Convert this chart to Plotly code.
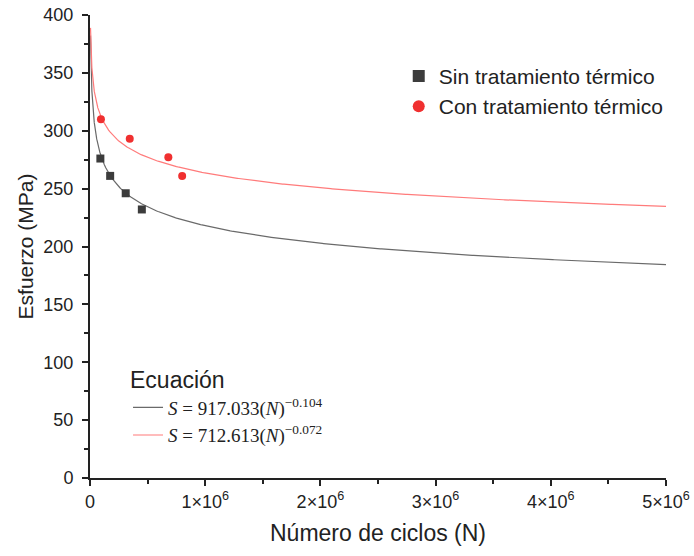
import numpy as np
import plotly.graph_objects as go

# Fatigue test data (cycles, stress in MPa)
ciclos_sin = [0.9e5, 1.75e5, 3.1e5, 4.5e5]
esfuerzo_sin = [276, 261, 246, 232]
ciclos_con = [0.95e5, 3.45e5, 6.8e5, 8.0e5]
esfuerzo_con = [310, 293, 277, 261]

# Basquin fit parameters S = A * N^b
coef_sin = [917.033, -0.104]
coef_con = [712.613, -0.072]

x_ticks = [0, 1e6, 2e6, 3e6, 4e6, 5e6]
x_ticktext = ["0", "1×10<sup>6</sup>", "2×10<sup>6</sup>", "3×10<sup>6</sup>",
              "4×10<sup>6</sup>", "5×10<sup>6</sup>"]
y_ticks = [0, 50, 100, 150, 200, 250, 300, 350, 400]

FONT = "Liberation Sans, Arial, sans-serif"
SERIF = "Liberation Serif, DejaVu Serif, serif"

n_fit = np.concatenate([np.linspace(4500, 1e5, 200), np.linspace(1e5, 5e6, 400)])

fig = go.Figure()

fig.add_trace(go.Scatter(
    x=n_fit, y=coef_sin[0] * n_fit ** coef_sin[1], mode="lines",
    line=dict(color="#6a6a6a", width=1.2),
    name="<i>S</i> = 917.033(<i>N</i>)<sup>−0.104</sup>", legend="legend2"))
fig.add_trace(go.Scatter(
    x=n_fit, y=coef_con[0] * n_fit ** coef_con[1], mode="lines",
    line=dict(color="#ff7b7b", width=1.2),
    name="<i>S</i> = 712.613(<i>N</i>)<sup>−0.072</sup>", legend="legend2"))

fig.add_trace(go.Scatter(
    x=ciclos_sin, y=esfuerzo_sin, mode="markers",
    marker=dict(symbol="square", size=8, color="#3c3c3c"),
    name="Sin tratamiento térmico", legend="legend"))
fig.add_trace(go.Scatter(
    x=ciclos_con, y=esfuerzo_con, mode="markers",
    marker=dict(symbol="circle", size=8, color="#f03030"),
    name="Con tratamiento térmico", legend="legend"))

fig.update_layout(
    width=694, height=556,
    margin=dict(l=90, r=28, t=15, b=78),
    plot_bgcolor="white", paper_bgcolor="white",
    font=dict(family=FONT, color="#222", size=18),
    showlegend=True,
    legend=dict(
        x=0.536, y=0.912, xanchor="left", yanchor="top",
        bgcolor="rgba(0,0,0,0)", font=dict(family=FONT, size=21, color="#222"),
        itemsizing="constant", tracegroupgap=0,
    ),
    legend2=dict(
        x=0.066, y=0.258, xanchor="left", yanchor="top",
        bgcolor="rgba(0,0,0,0)", font=dict(family=SERIF, size=19, color="#222"),
        title=dict(text="Ecuación", font=dict(family=FONT, size=23, color="#222")),
    ),
    xaxis=dict(
        range=[0, 5e6], tickvals=x_ticks, ticktext=x_ticktext, automargin=False,
        showgrid=False, zeroline=False, showline=True, linecolor="#222", linewidth=2,
        ticks="outside", ticklen=6, tickwidth=2, tickcolor="#222",
        minor=dict(dtick=5e5, ticks="outside", ticklen=4, tickwidth=2, tickcolor="#222"),
        tickfont=dict(size=18), title=dict(text="Número de ciclos (N)", font=dict(size=23), standoff=14),
    ),
    yaxis=dict(
        range=[0, 400], tickvals=y_ticks, automargin=False, ticklabelstandoff=5,
        showgrid=False, zeroline=False, showline=True, linecolor="#222", linewidth=2,
        ticks="outside", ticklen=6, tickwidth=2, tickcolor="#222",
        minor=dict(dtick=25, ticks="outside", ticklen=4, tickwidth=2, tickcolor="#222"),
        tickfont=dict(size=18), title=dict(text="Esfuerzo (MPa)", font=dict(size=21), standoff=4),
    ),
)

fig.write_html("out.html")
